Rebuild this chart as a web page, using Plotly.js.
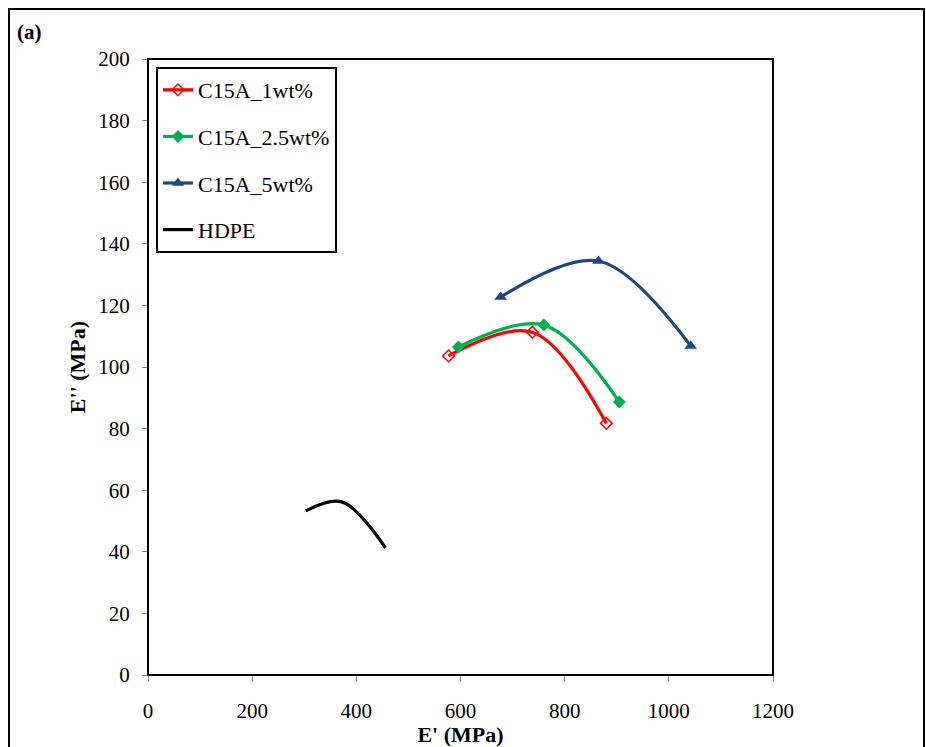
<!DOCTYPE html>
<html><head><meta charset="utf-8">
<script src="https://cdn.plot.ly/plotly-3.0.1.min.js"></script>
<style>
html,body{margin:0;padding:0;background:#fff;}
#frame{position:absolute;left:8px;top:8px;width:917px;height:745px;border:2px solid #000;box-sizing:border-box;pointer-events:none;z-index:10;}
#chart{position:absolute;left:0;top:0;width:926px;height:747px;}
</style></head>
<body>
<div id="chart"></div>
<div id="frame"></div>
<script>
const seriesNames = ["C15A_1wt%", "C15A_2.5wt%", "C15A_5wt%", "HDPE"];
const c1_x = [577, 738, 880];
const c1_y = [103.6, 111.3, 81.7];
const c25_x = [596, 760, 905];
const c25_y = [106.5, 113.6, 88.6];
const c5_x = [677, 865, 1042];
const c5_y = [122.7, 134.4, 106.8];
const hdpe_x = [303, 372, 456];
const hdpe_y = [53.3, 56.2, 41.3];
const xTicks = [0, 200, 400, 600, 800, 1000, 1200];
const yTicks = [0, 20, 40, 60, 80, 100, 120, 140, 160, 180, 200];

const F = "Liberation Serif, Times New Roman, serif";
const traces = [
  {x: c1_x, y: c1_y, name: seriesNames[0], legendgroup: "a", mode: "lines+markers",
   line: {color: "#FF0000", width: 3.2, shape: "spline", smoothing: 1},
   marker: {symbol: "diamond-open", size: 9, color: "#FF0000", line: {width: 1.5, color: "#FF0000"}}},
  {x: c25_x, y: c25_y, name: seriesNames[1], legendgroup: "b", mode: "lines+markers",
   line: {color: "#00B050", width: 3.2, shape: "spline", smoothing: 1},
   marker: {symbol: "diamond", size: 10, color: "#00B050"}},
  {x: c5_x, y: c5_y, name: seriesNames[2], legendgroup: "c", mode: "lines+markers",
   line: {color: "#1F497D", width: 3.2, shape: "spline", smoothing: 1},
   marker: {symbol: "triangle-up", size: 11, color: "#1F497D"}},
  {x: hdpe_x, y: hdpe_y, name: seriesNames[3], legendgroup: "d", mode: "lines",
   line: {color: "#000000", width: 3.2, shape: "spline", smoothing: 1}}
];

const layout = {
  width: 926, height: 747,
  margin: {l: 148, r: 153, t: 59, b: 72},
  paper_bgcolor: "#fff", plot_bgcolor: "#fff",
  font: {family: F, size: 21, color: "#000"},
  showlegend: true,
  legend: {x: 0.0128, y: 0.987, xanchor: "left", yanchor: "top",
    bgcolor: "#fff", bordercolor: "#000", borderwidth: 2,
    font: {family: F, size: 22, color: "#000"}, tracegroupgap: 15,
    itemwidth: 30},
  xaxis: {range: [0, 1200], tickvals: xTicks, ticktext: xTicks.map(String),
    showgrid: false, zeroline: false, showline: true, linecolor: "#888", linewidth: 1,
    ticks: "outside", ticklen: 5, tickcolor: "#888", tickfont: {family: F, size: 21},
    ticklabelstandoff: 12,
    title: {text: "<b>E' (MPa)</b>", font: {family: F, size: 22}, standoff: 0}},
  yaxis: {range: [0, 200], tickvals: yTicks, ticktext: yTicks.map(String),
    showgrid: false, zeroline: false, showline: true, linecolor: "#888", linewidth: 1,
    ticks: "outside", ticklen: 5, tickcolor: "#888", tickfont: {family: F, size: 21},
    ticklabelstandoff: 8,
    title: {text: "<b>E'' (MPa)</b>", font: {family: F, size: 22}, standoff: 6}},
  shapes: [{type: "rect", xref: "paper", yref: "paper", x0: 0, x1: 1, y0: 0, y1: 1,
    line: {color: "#000", width: 2}, layer: "above"}],
  annotations: [{text: "<b>(a)</b>", xref: "paper", yref: "paper", x: -0.213, y: 1.044,
    xanchor: "left", yanchor: "middle", showarrow: false, font: {family: F, size: 21}}]
};
Plotly.newPlot("chart", traces, layout, {displayModeBar: false});
</script>
</body></html>
